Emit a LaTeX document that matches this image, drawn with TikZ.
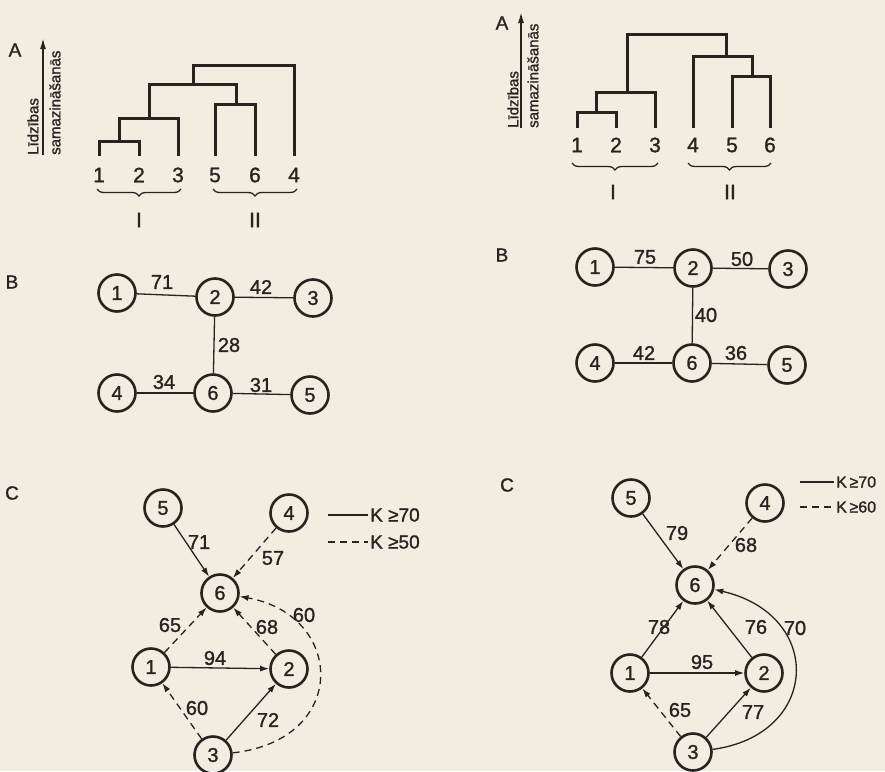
\documentclass[tikz,border=0pt]{standalone}
\usepackage{fontspec}
\setmainfont{Liberation Sans}[FakeBold=1.2]
\usetikzlibrary{arrows.meta,decorations.pathreplacing}
\definecolor{paper}{RGB}{241,237,225}
\definecolor{ink}{RGB}{38,35,33}
\begin{document}
\begin{tikzpicture}[x=1pt,y=-1pt,
 vert/.style={circle,draw=ink,line width=2.6pt,minimum size=37pt,inner sep=0pt,font=\fontsize{20}{20}\selectfont,text=ink},
 ed/.style={draw=ink,line width=1.3pt},
 arr/.style={ed,-{Latex[length=9pt,width=6pt]}},
 dsh/.style={dash pattern=on 7pt off 5pt},
 lbl/.style={font=\fontsize{20}{20}\selectfont,text=ink,inner sep=0pt},
 leaf/.style={font=\fontsize{21}{21}\selectfont,text=ink,inner sep=0pt},
 panel/.style={font=\fontsize{19}{19}\selectfont,text=ink,inner sep=0pt},
 axistxt/.style={font=\fontsize{15}{15}\selectfont,text=ink,inner sep=0pt,rotate=90,anchor=west},
 tree/.style={draw=ink,line width=3pt,line join=miter},
 brc/.style={draw=ink,line width=1.3pt,decorate,decoration={brace,mirror,amplitude=7pt}},
 leg/.style={font=\fontsize{19}{19}\selectfont,text=ink,inner sep=0pt,anchor=west},
 legs/.style={font=\fontsize{16}{16}\selectfont,text=ink,inner sep=0pt,anchor=west}
]
\useasboundingbox (0,0) rectangle (885,771);
\fill[paper] (0,0) rectangle (885,771);

% ---------- A left: dendrogram ----------
\node[panel] (Al) at (15,50) {A};
\draw[ink,line width=1.6pt,-{Latex[length=11pt,width=6pt]}] (43,155) -- (43,38);
\node[axistxt] (axl1) at (33,155) {Līdzības};
\node[axistxt] (axl2) at (55,155) {samazināšanās};
\draw[tree] (99,156) -- (99,141) -- (139,141) -- (139,156);
\draw[tree] (119,141) -- (119,118) -- (178,118) -- (178,156);
\draw[tree] (149,118) -- (149,84) -- (236,84) -- (236,104);
\draw[tree] (215,156) -- (215,104) -- (255,104) -- (255,156);
\draw[tree] (193,84) -- (193,65) -- (294,65) -- (294,156);
\node[leaf] (la1) at (99,175) {1};
\node[leaf] (la2) at (139,175) {2};
\node[leaf] (la3) at (178,175) {3};
\node[leaf] (la5) at (215,175) {5};
\node[leaf] (la6) at (255,175) {6};
\node[leaf] (la4) at (294,175) {4};
\draw[brc] (97,189) -- (181,189);
\draw[brc] (213,189) -- (297,189);
\node[leaf] (gIl) at (139,220) {I};
\node[leaf] (gIIl) at (255,220) {II};

% ---------- A right: dendrogram ----------
\node[panel] (Ar) at (502,23) {A};
\draw[ink,line width=1.6pt,-{Latex[length=11pt,width=6pt]}] (521,128) -- (521,12);
\node[axistxt] (axr1) at (513,128) {Līdzības};
\node[axistxt] (axr2) at (533,128) {samazināšanās};
\draw[tree] (577,128) -- (577,112) -- (616,112) -- (616,128);
\draw[tree] (596,112) -- (596,92) -- (655,92) -- (655,128);
\draw[tree] (627,92) -- (627,34) -- (726,34) -- (726,56);
\draw[tree] (693,128) -- (693,56) -- (752,56) -- (752,76);
\draw[tree] (732,128) -- (732,76) -- (770,76) -- (770,128);
\node[leaf] (lb1) at (577,145) {1};
\node[leaf] (lb2) at (616,145) {2};
\node[leaf] (lb3) at (655,145) {3};
\node[leaf] (lb4) at (693,145) {4};
\node[leaf] (lb5) at (732,145) {5};
\node[leaf] (lb6) at (770,145) {6};
\draw[brc] (572,163) -- (658,163);
\draw[brc] (688,163) -- (771,163);
\node[leaf] (gIr) at (613,192) {I};
\node[leaf] (gIIr) at (730,192) {II};

% ---------- B left ----------
\node[panel] (Bl) at (12,282) {B};
\node[vert] (b1) at (117,293) {1};
\node[vert] (b2) at (215,297) {2};
\node[vert] (b3) at (313,298) {3};
\node[vert] (b4) at (117,393) {4};
\node[vert] (b6) at (213,393) {6};
\node[vert] (b5) at (310,395) {5};
\draw[ed] (b1) -- (b2);
\draw[ed] (b2) -- (b3);
\draw[ed] (b2) -- (b6);
\draw[ed] (b4) -- (b6);
\draw[ed] (b6) -- (b5);
\node[lbl] (bl12) at (162,282) {71};
\node[lbl] (bl23) at (261,287) {42};
\node[lbl] (bl26) at (229,345) {28};
\node[lbl] (bl46) at (164,382) {34};
\node[lbl] (bl65) at (261,385) {31};

% ---------- B right ----------
\node[panel] (Br) at (502,255) {B};
\node[vert] (r1) at (595,267) {1};
\node[vert] (r2) at (693,268) {2};
\node[vert] (r3) at (788,269) {3};
\node[vert] (r4) at (595,363) {4};
\node[vert] (r6) at (692,363) {6};
\node[vert] (r5) at (787,365) {5};
\draw[ed] (r1) -- (r2);
\draw[ed] (r2) -- (r3);
\draw[ed] (r2) -- (r6);
\draw[ed] (r4) -- (r6);
\draw[ed] (r6) -- (r5);
\node[lbl] (rl12) at (645,257) {75};
\node[lbl] (rl23) at (742,259) {50};
\node[lbl] (rl26) at (706,315) {40};
\node[lbl] (rl46) at (644,353) {42};
\node[lbl] (rl65) at (736,353) {36};

% ---------- C left ----------
\node[panel] (Cl) at (12,493) {C};
\node[vert] (c5) at (163,508) {5};
\node[vert] (c4) at (289,513) {4};
\node[vert] (c6) at (220,593) {6};
\node[vert] (c1) at (151,667) {1};
\node[vert] (c2) at (289,669) {2};
\node[vert] (c3) at (213,755) {3};
\draw[arr] (c5) -- (c6);
\draw[arr,dsh] (c4) -- (c6);
\draw[arr,dsh] (c1) -- (c6);
\draw[arr,dsh] (c2) -- (c6);
\draw[arr] (c1) -- (c2);
\draw[arr] (c3) -- (c2);
\draw[arr,dsh] (c3) -- (c1);
\draw[arr,dsh] (c3) .. controls (350,740) and (345,615) .. (c6);
\node[lbl] (cl56) at (199,542) {71};
\node[lbl] (cl46) at (273,558) {57};
\node[lbl] (cl16) at (170,625) {65};
\node[lbl] (cl26) at (267,627) {68};
\node[lbl] (cl36) at (304,615) {60};
\node[lbl] (cl12) at (215,658) {94};
\node[lbl] (cl31) at (197,708) {60};
\node[lbl] (cl32) at (268,720) {72};
\coordinate (kl1a) at (328,515); \coordinate (kl1b) at (368,515);
\coordinate (kl2a) at (328,542); \coordinate (kl2b) at (368,542);
\draw[ed] (kl1a) -- (kl1b);
\draw[ed,dsh] (kl2a) -- (kl2b);
\node[leg] (kl1) at (370,515) {K ≥70};
\node[leg] (kl2) at (370,542) {K ≥50};

% ---------- C right ----------
\node[panel] (Cr) at (507,485) {C};
\node[vert] (d5) at (631,498) {5};
\node[vert] (d4) at (765,503) {4};
\node[vert] (d6) at (695,585) {6};
\node[vert] (d1) at (630,673) {1};
\node[vert] (d2) at (764,673) {2};
\node[vert] (d3) at (693,752) {3};
\draw[arr] (d5) -- (d6);
\draw[arr,dsh] (d4) -- (d6);
\draw[arr] (d1) -- (d6);
\draw[arr] (d2) -- (d6);
\draw[arr] (d1) -- (d2);
\draw[arr] (d3) -- (d2);
\draw[arr,dsh] (d3) -- (d1);
\draw[arr] (d3) .. controls (820,735) and (825,615) .. (d6);
\node[lbl] (dl56) at (677,533) {79};
\node[lbl] (dl46) at (746,545) {68};
\node[lbl] (dl16) at (659,627) {78};
\node[lbl] (dl26) at (756,627) {76};
\node[lbl] (dl36) at (795,628) {70};
\node[lbl] (dl12) at (702,662) {95};
\node[lbl] (dl31) at (680,710) {65};
\node[lbl] (dl32) at (753,712) {77};
\coordinate (kr1a) at (800,482); \coordinate (kr1b) at (834,482);
\coordinate (kr2a) at (800,507); \coordinate (kr2b) at (834,507);
\draw[ed] (kr1a) -- (kr1b);
\draw[ed,dsh] (kr2a) -- (kr2b);
\node[legs] (kr1) at (836,482) {K\,≥70};
\node[legs] (kr2) at (836,507) {K\,≥60};
\end{tikzpicture}
\end{document}
